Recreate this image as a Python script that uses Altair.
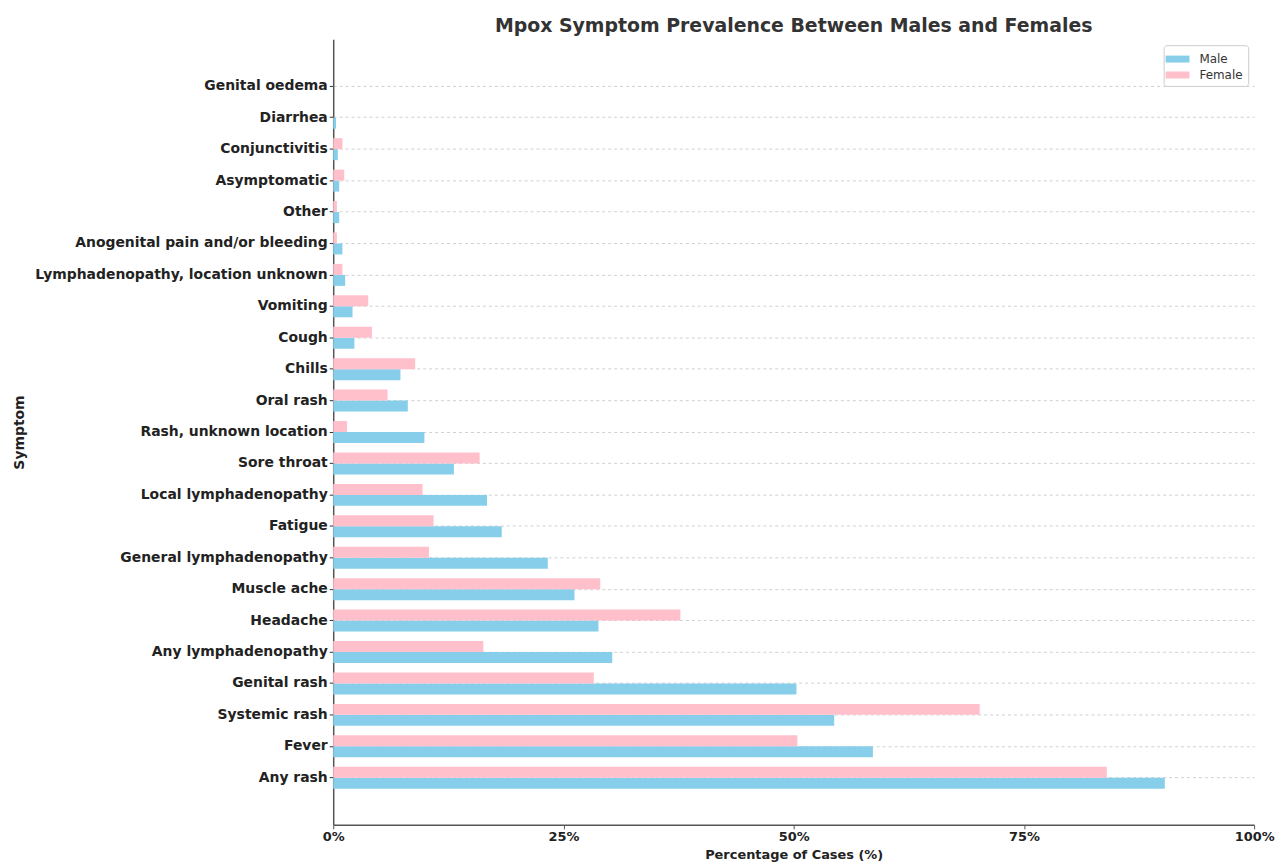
import altair as alt
import pandas as pd

symptoms = [
    "Genital oedema", "Diarrhea", "Conjunctivitis", "Asymptomatic", "Other",
    "Anogenital pain and/or bleeding", "Lymphadenopathy, location unknown",
    "Vomiting", "Cough", "Chills", "Oral rash", "Rash, unknown location",
    "Sore throat", "Local lymphadenopathy", "Fatigue", "General lymphadenopathy",
    "Muscle ache", "Headache", "Any lymphadenopathy", "Genital rash",
    "Systemic rash", "Fever", "Any rash",
]
male = [0.0, 0.3, 0.5, 0.65, 0.65, 1.0, 1.3, 2.1, 2.3, 7.3, 8.1, 9.9,
        13.1, 16.7, 18.3, 23.3, 26.2, 28.8, 30.3, 50.3, 54.4, 58.6, 90.3]
female = [0.0, 0.0, 1.0, 1.2, 0.4, 0.4, 1.0, 3.8, 4.2, 8.9, 5.9, 1.5,
          15.9, 9.7, 10.9, 10.4, 29.0, 37.7, 16.3, 28.3, 70.2, 50.4, 84.0]
x_ticks = [0, 25, 50, 75, 100]

rows = []
for s, m, f in zip(symptoms, male, female):
    rows.append({"Symptom": s, "Sex": "Male", "Pct": m})
    rows.append({"Symptom": s, "Sex": "Female", "Pct": f})
df = pd.DataFrame(rows)

FONT = "DejaVu Sans"

chart = alt.Chart(df).mark_bar().encode(
    y=alt.Y(
        "Symptom:N",
        sort=symptoms,
        scale=alt.Scale(paddingInner=0, paddingOuter=1),
        axis=alt.Axis(
            title="Symptom",
            titleFont=FONT, titleFontSize=14, titleFontWeight="bold",
            titleColor="#222", titleX=-308,
            labelFont=FONT, labelFontSize=14, labelFontWeight="bold",
            labelColor="#222", labelPadding=2, labelLimit=400,
            grid=True, gridDash=[3, 3], gridColor="#c4c4c4", gridWidth=0.8,
            bandPosition=0.5,
            domainColor="#555", domainWidth=1.5,
            tickColor="#333", tickSize=4,
        ),
    ),
    yOffset=alt.YOffset(
        "Sex:N",
        sort=["Female", "Male"],
        scale=alt.Scale(domain=["Female", "Male"], paddingInner=0, paddingOuter=0.43),
    ),
    x=alt.X(
        "Pct:Q",
        scale=alt.Scale(domain=[0, 100], nice=False),
        axis=alt.Axis(
            title="Percentage of Cases (%)",
            values=x_ticks,
            labelExpr="datum.value + '%'",
            titleFont=FONT, titleFontSize=13, titleFontWeight="bold",
            titleColor="#222", titlePadding=5,
            labelFont=FONT, labelFontSize=13, labelFontWeight="bold",
            labelColor="#222", labelFlush=False, labelPadding=2,
            grid=False,
            domainColor="#555", domainWidth=1.5,
            tickColor="#555", tickSize=4,
        ),
    ),
    color=alt.Color(
        "Sex:N",
        scale=alt.Scale(domain=["Male", "Female"], range=["#87CEEB", "#FFC0CB"]),
        legend=alt.Legend(
            title=None, orient="top-right", offset=6,
            labelFont=FONT, labelFontSize=12, labelColor="#333",
            labelOffset=13,
            symbolType="M-1.386,-0.404H1.386V0.404H-1.386Z", symbolSize=300,
            symbolStrokeWidth=0,
            strokeColor="#ccc", fillColor="white", cornerRadius=3,
            padding=5, rowPadding=1,
        ),
    ),
).properties(
    width=926,
    height=790,
    padding={"left": 5, "top": 7, "right": 5, "bottom": 0},
    title=alt.TitleParams(
        "Mpox Symptom Prevalence Between Males and Females",
        font=FONT, fontSize=19, fontWeight="bold", color="#333", offset=3,
    ),
).configure(background="white").configure_view(stroke=None, strokeWidth=0)

chart.save("out.html", embed_options={"renderer": "svg", "actions": False})
